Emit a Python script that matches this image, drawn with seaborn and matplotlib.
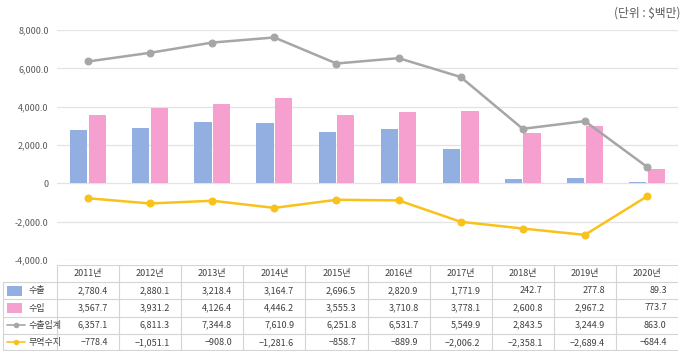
import numpy as np
import pandas as pd
import matplotlib
matplotlib.use('Agg')
import matplotlib.pyplot as plt
import seaborn as sns
from matplotlib.patches import Rectangle
from matplotlib.lines import Line2D

sns.set_style('white')
plt.rcParams['font.family'] = ['Noto Sans CJK KR', 'DejaVu Sans']

years = ['2011년', '2012년', '2013년', '2014년', '2015년', '2016년', '2017년', '2018년', '2019년', '2020년']
export = [2780.4, 2880.1, 3218.4, 3164.7, 2696.5, 2820.9, 1771.9, 242.7, 277.8, 89.3]
imports = [3567.7, 3931.2, 4126.4, 4446.2, 3555.3, 3710.8, 3778.1, 2600.8, 2967.2, 773.7]
total = [6357.1, 6811.3, 7344.8, 7610.9, 6251.8, 6531.7, 5549.9, 2843.5, 3244.9, 863.0]
balance = [-778.4, -1051.1, -908.0, -1281.6, -858.7, -889.9, -2006.2, -2358.1, -2689.4, -684.4]
series_names = ['수출', '수입', '수출입계', '무역수지']
yticks = [-4000, -2000, 0, 2000, 4000, 6000, 8000]

c_exp = '#93AEE0'
c_imp = '#F5A0CF'
c_tot = '#A6A6A6'
c_bal = '#F9C21A'

W, H = 687, 353
fig = plt.figure(figsize=(W / 100, H / 100), dpi=100)
left_px, right_px = 57, 678
ax = fig.add_axes([left_px / W, 1 - 260 / H, (right_px - left_px) / W, 230 / H])

df = pd.DataFrame({
    'year': years * 2,
    'value': export + imports,
    'kind': [series_names[0]] * len(years) + [series_names[1]] * len(years),
})
sns.barplot(data=df, x='year', y='value', hue='kind', palette=[c_exp, c_imp],
            width=0.6, gap=0.08, saturation=1, ax=ax, legend=False, edgecolor='none')
xs = np.arange(len(years))
sns.lineplot(x=xs, y=total, color=c_tot, lw=1.8, marker='o', markersize=5,
             markeredgecolor=c_tot, ax=ax)
sns.lineplot(x=xs, y=balance, color=c_bal, lw=1.8, marker='o', markersize=5,
             markeredgecolor=c_bal, ax=ax)

ax.set_xlim(-0.5, len(years) - 0.5)
ax.set_ylim(-4000, 8000)
ax.set_yticks(yticks)
ax.set_yticklabels(['0' if v == 0 else f'{v:,.1f}' for v in yticks], fontsize=6.5, color='#595959')
ax.set_xticks([])
ax.set_xlabel('')
ax.set_ylabel('')
ax.tick_params(axis='y', length=0, pad=6)
for v in yticks:
    ax.axhline(v, color='#E3E3E3', lw=0.9, zorder=0)
for s in ax.spines.values():
    s.set_visible(False)

fig.text(680 / W, 1 - 13 / H, '(단위 : $백만)', ha='right', va='center', fontsize=8.5, color='#595959')

# data table under the chart
tab = fig.add_axes([0, 1 - 351 / H, right_px / W, 86 / H])
unit = (right_px - left_px) / len(years)
x0 = -0.5 - left_px / unit
tab.set_xlim(x0, len(years) - 0.5)
tab.set_ylim(5, 0)
tab.axis('off')
gc = '#D4D4D4'
x_first = x0 + 3 / unit
# horizontal lines
tab.plot([-0.5, len(years) - 0.5], [0.02, 0.02], color=gc, lw=0.8)
for r in range(1, 6):
    yy = min(r, 4.97)
    tab.plot([x_first, len(years) - 0.5], [yy, yy], color=gc, lw=0.8)
# vertical lines
tab.plot([x_first, x_first], [1, 4.97], color=gc, lw=0.8)
for i in range(len(years) + 1):
    tab.plot([i - 0.5, i - 0.5], [0.02, 4.97], color=gc, lw=0.8)

tcol = '#404040'
for i, y in enumerate(years):
    tab.text(i, 0.5, y, ha='center', va='center', fontsize=6.5, color=tcol)
rows = [export, imports, total, balance]
for r, vals in enumerate(rows):
    for i, v in enumerate(vals):
        s = f'{v:,.1f}'.replace('-', '\u2212')
        tab.text(i + 0.32, r + 1.5, s, ha='right', va='center', fontsize=6.5, color=tcol)

kx = x_first + 0.06
tab.add_patch(Rectangle((kx, 1.22), 0.24, 0.56, color=c_exp, lw=0))
tab.add_patch(Rectangle((kx, 2.22), 0.24, 0.56, color=c_imp, lw=0))
tab.add_line(Line2D([kx, kx + 0.3], [3.5, 3.5], color=c_tot, lw=1.2))
tab.plot([kx + 0.15], [3.5], 'o', color=c_tot, markersize=3)
tab.add_line(Line2D([kx, kx + 0.3], [4.5, 4.5], color=c_bal, lw=1.2))
tab.plot([kx + 0.15], [4.5], 'o', color=c_bal, markersize=3)
for r, name in enumerate(series_names):
    tab.text(kx + 0.35, r + 1.5, name, ha='left', va='center', fontsize=6.5, color=tcol)

fig.savefig('out.png', dpi=100)
